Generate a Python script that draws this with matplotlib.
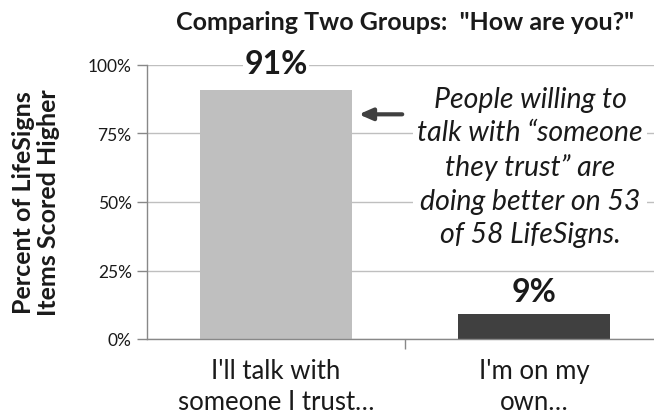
import matplotlib
matplotlib.use("Agg")
import matplotlib.pyplot as plt
from matplotlib.ticker import FuncFormatter, FixedLocator

categories = ["I'll talk with\nsomeone I trust\u2026", "I'm on my\nown\u2026"]
values = [91, 9]
bar_colors = ["#BFBFBF", "#404040"]
yticks = [0, 25, 50, 75, 100]
title = 'Comparing Two Groups:  "How are you?"'
ylabel = "Percent of LifeSigns\nItems Scored Higher"
note = ("People willing to\ntalk with \u201csomeone\nthey trust\u201d are\n"
        "doing better on 53\nof 58 LifeSigns.")

plt.rcParams['font.family'] = ['Lato', 'DejaVu Sans']

fig = plt.figure(figsize=(6.54, 4.14), dpi=100)
ax = fig.add_axes([147/654, 74/414, 516/654, 274/414])

x = list(range(len(categories)))
ax.bar(x, values, width=0.59, color=bar_colors, zorder=2)
ax.set_xlim(-0.5, 1.5)
ax.set_ylim(0, 100)

ax.yaxis.set_major_locator(FixedLocator(yticks))
ax.yaxis.set_major_formatter(FuncFormatter(lambda v, p: f"{int(v)}%"))
ax.grid(axis='y', color='#BFBFBF', linewidth=1, zorder=0)
ax.set_axisbelow(True)

ax.set_xticks(x)
ax.set_xticklabels(categories, fontsize=18.5, color='#1a1a1a', linespacing=1.3)
ax.tick_params(axis='x', length=0, pad=14)
ax.set_xticks([0.5], minor=True)
ax.tick_params(axis='x', which='minor', length=7, color='#888888', width=1)
ax.tick_params(axis='y', length=7, color='#888888', width=1, labelsize=12.5,
               labelcolor='#1a1a1a', pad=4)

for s in ['top', 'right']:
    ax.spines[s].set_visible(False)
for s in ['left', 'bottom']:
    ax.spines[s].set_color('#888888')
    ax.spines[s].set_linewidth(1)

label_y = [100.4, 17.2]
for xi, v, ly in zip(x, values, label_y):
    ax.text(xi, ly, f"{v}%", ha='center', va='center', fontsize=23,
            fontweight='bold', color='#1a1a1a', zorder=4,
            bbox=dict(facecolor='white', edgecolor='none', pad=1))

ax.set_ylabel(ylabel, fontsize=18, fontweight='bold', color='#1a1a1a',
              linespacing=1.1, labelpad=20)

fig.text(405/654, 1 - 22/414, title, ha='center', va='center', fontsize=18,
         fontweight='bold', color='#1a1a1a')

ax.text(0.985, 63.0, note, ha='center', va='center', fontsize=20.5, style='italic',
        color='#1a1a1a', linespacing=1.36, zorder=3,
        bbox=dict(facecolor='white', edgecolor='none', pad=3))

ax.annotate('', xy=(0.31, 82), xytext=(0.5, 82),
            arrowprops=dict(arrowstyle='-|>,head_length=0.8,head_width=0.35',
                            color='#404040', lw=3), zorder=4)

fig.savefig("out.png", dpi=100)
